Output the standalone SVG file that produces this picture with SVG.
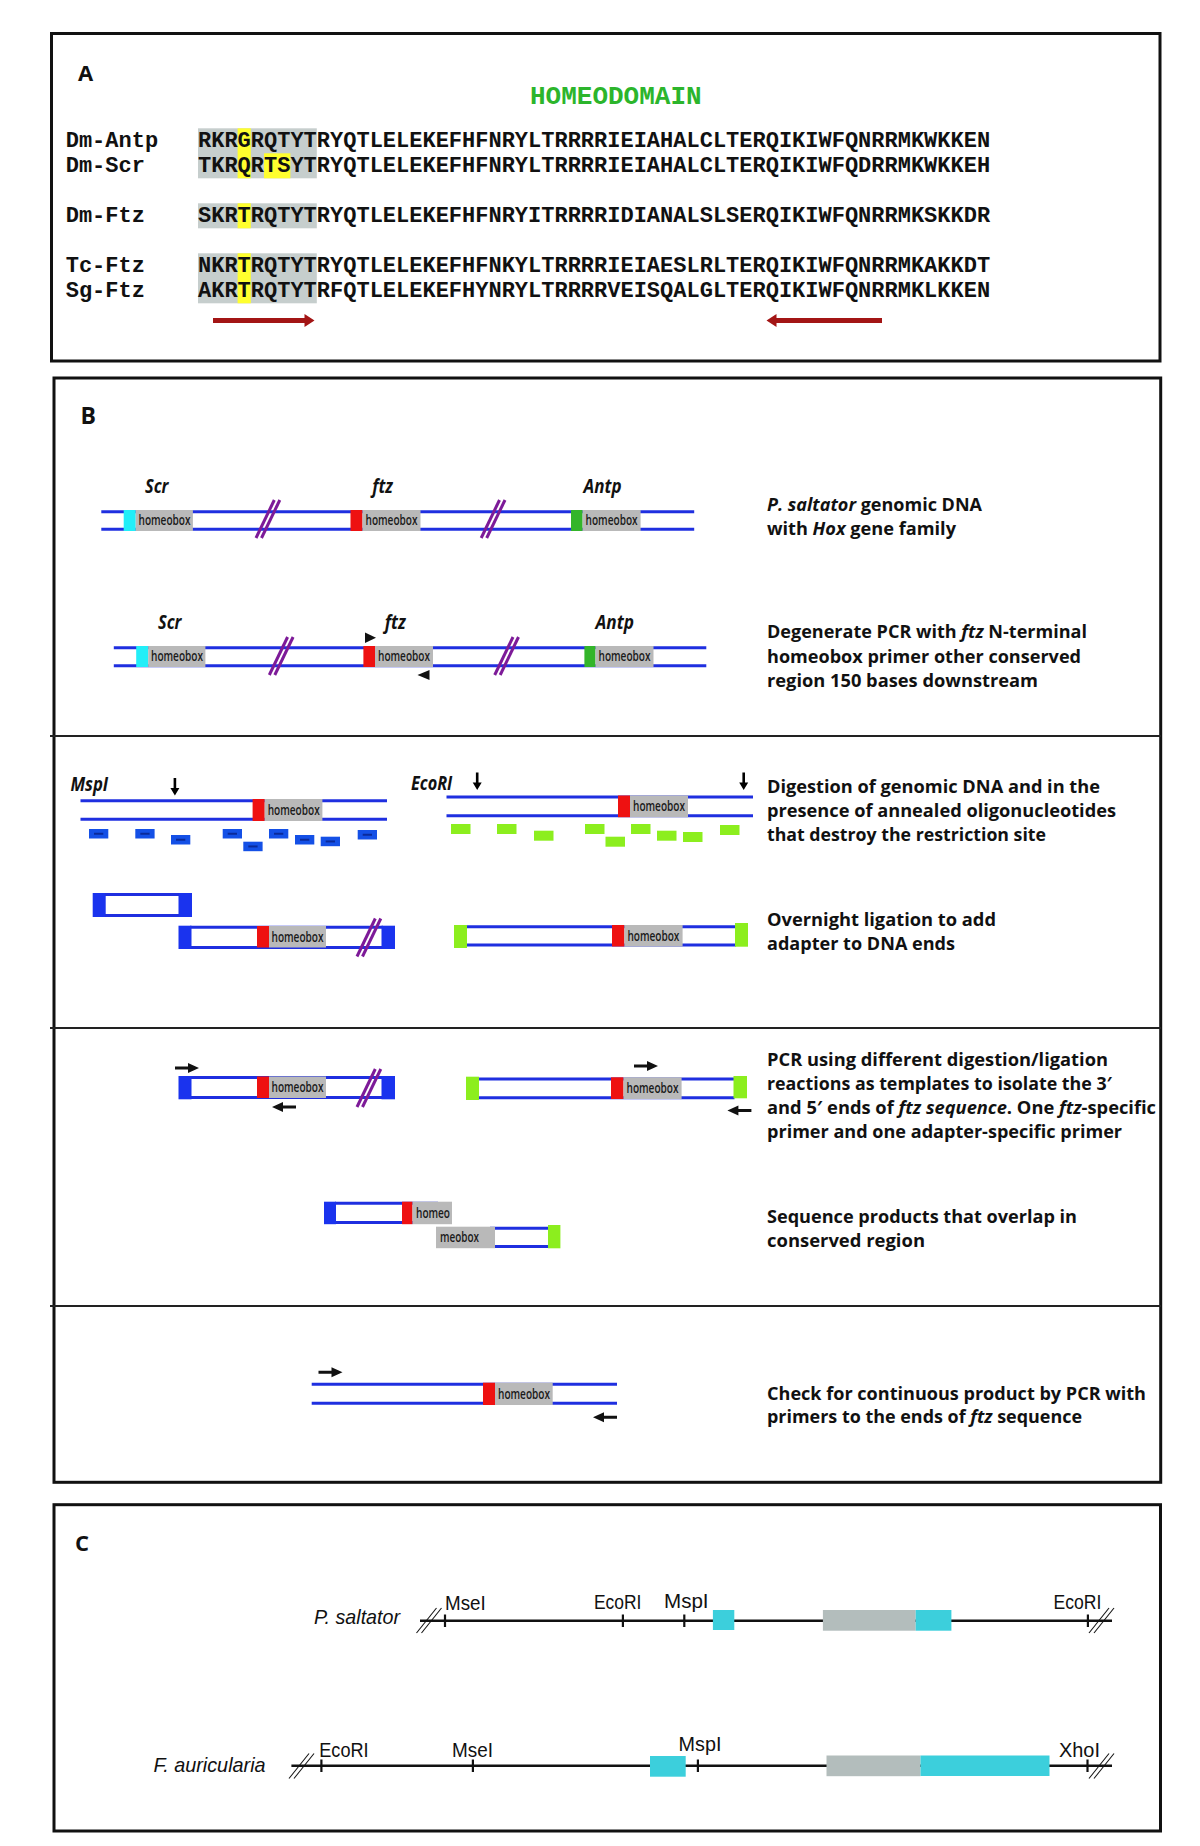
<svg xmlns="http://www.w3.org/2000/svg" width="1200" height="1846" viewBox="0 0 1200 1846">
<style>
.frame{fill:none;stroke:#111;stroke-width:3}
.div{stroke:#222;stroke-width:2}
.seq{font-family:"Liberation Mono","Courier New",monospace;font-weight:bold;font-size:22px;fill:#111}
.hd{font-family:"Liberation Mono","Courier New",monospace;font-weight:bold;font-size:26px;fill:#2cb52c}
.lbl{font-family:"Open Sans","Liberation Sans",sans-serif;font-weight:bold;fill:#111}
.gene{font-family:"Open Sans","Liberation Sans",sans-serif;font-weight:bold;font-style:italic;font-size:19px;fill:#111}
.desc{font-family:"Open Sans","Liberation Sans",sans-serif;font-weight:bold;font-size:17.5px;fill:#111}
.it{font-style:italic}
.hb{font-family:"Open Sans","Liberation Sans",sans-serif;font-weight:600;font-size:13.5px;fill:#1a1a1a}
.dna{stroke:#1f2fe0;stroke-width:3}
.hbox{fill:#b9b9b9}
.red{fill:#ee1111}
.cy{fill:#22eef8}
.grn{fill:#33b52a}
.slash line{stroke:#7d1a98;stroke-width:3}
.blue{fill:#1a33ee}
.olig{fill:#1450e6}
.dash{stroke:#0a2a9a;stroke-width:2}
.lime{fill:#8cee1e}
.arr{fill:#111}
.sh{fill:#c6cecd}
.yl{fill:#ffff2e}
.darr{fill:#a31515}
.cline{stroke:#111;stroke-width:2.5}
.tick{stroke:#111;stroke-width:2.2}
.cs line{stroke:#111;stroke-width:1.1}
.ctext{font-family:"Liberation Sans",Arial,sans-serif;font-size:19.5px;fill:#111}
.cital{font-family:"Liberation Sans",Arial,sans-serif;font-style:italic;font-size:21px;fill:#111}
.cb{fill:#3ccfdc}
.cg{fill:#b3bdbc}
</style>
<defs>
<path id="ar" d="M0,-1.5 h13 v-3.5 l11,5 l-11,5 v-3.5 h-13 z"/>
<path id="ad" d="M-1.3,0 v10 h-3.2 l4.5,7.5 l4.5,-7.5 h-3.2 v-10 z"/>
<g id="sl" class="slash"><line x1="0" y1="38" x2="18.3" y2="0"/><line x1="5.5" y1="38" x2="23.8" y2="0"/></g>
<g id="cs" class="cs"><line x1="0" y1="25" x2="20" y2="0"/><line x1="5" y1="25" x2="25" y2="0"/></g>
<g id="olig"><rect class="olig" width="19.3" height="9.5"/><line class="dash" x1="5" y1="4.75" x2="14.3" y2="4.75"/></g>
</defs>

<!-- Panel frames -->
<g id="frames">
<rect class="frame" x="51.5" y="33.5" width="1108.5" height="327.5"/>
<rect class="frame" x="54" y="378" width="1106.7" height="1104.3"/>
<rect class="frame" x="54" y="1504.7" width="1106.5" height="326.3"/>
<line class="div" x1="50" y1="736" x2="1161" y2="736"/>
<line class="div" x1="50" y1="1028" x2="1161" y2="1028"/>
<line class="div" x1="50" y1="1306" x2="1161" y2="1306"/>
</g>

<!-- Panel A -->
<g id="panelA">
<text class="lbl" x="78" y="81" font-size="22">A</text>
<text class="hd" x="530" y="104">HOMEODOMAIN</text>
<g id="shading">
<rect class="sh" x="198" y="128.3" width="118.8" height="50"/>
<rect class="sh" x="198" y="203.3" width="118.8" height="25"/>
<rect class="sh" x="198" y="253.3" width="118.8" height="50"/>
<rect class="yl" x="237.6" y="128.3" width="13.2" height="50"/>
<rect class="yl" x="264" y="153.3" width="26.4" height="25"/>
<rect class="yl" x="237.6" y="203.3" width="13.2" height="25"/>
<rect class="yl" x="237.6" y="253.3" width="13.2" height="50"/>
</g>
<g id="seqs">
<text class="seq" x="65.7" y="146.5">Dm-Antp</text>
<text class="seq" x="198" y="146.5">RKRGRQTYTRYQTLELEKEFHFNRYLTRRRRIEIAHALCLTERQIKIWFQNRRMKWKKEN</text>
<text class="seq" x="65.7" y="171.5">Dm-Scr</text>
<text class="seq" x="198" y="171.5">TKRQRTSYTRYQTLELEKEFHFNRYLTRRRRIEIAHALCLTERQIKIWFQDRRMKWKKEH</text>
<text class="seq" x="65.7" y="221.5">Dm-Ftz</text>
<text class="seq" x="198" y="221.5">SKRTRQTYTRYQTLELEKEFHFNRYITRRRRIDIANALSLSERQIKIWFQNRRMKSKKDR</text>
<text class="seq" x="65.7" y="271.5">Tc-Ftz</text>
<text class="seq" x="198" y="271.5">NKRTRQTYTRYQTLELEKEFHFNKYLTRRRRIEIAESLRLTERQIKIWFQNRRMKAKKDT</text>
<text class="seq" x="65.7" y="296.5">Sg-Ftz</text>
<text class="seq" x="198" y="296.5">AKRTRQTYTRFQTLELEKEFHYNRYLTRRRRVEISQALGLTERQIKIWFQNRRMKLKKEN</text>
</g>
<g id="primersA">
<path class="darr" d="M213,318 h91.5 v-4 l10,6.5 l-10,6.5 v-4 h-91.5 z"/>
<path class="darr" d="M882,318 h-105.5 v-4 l-10,6.5 l10,6.5 v-4 h105.5 z"/>
</g>
</g>

<!-- Panel B -->
<g id="panelB">
<text class="lbl" x="80.5" y="424" font-size="23">B</text>

<g id="row-genomic">
<line class="dna" x1="101.3" y1="511.7" x2="694.2" y2="511.7"/>
<line class="dna" x1="101.3" y1="529.3" x2="694.2" y2="529.3"/>
<rect class="cy" x="123.7" y="510" width="12" height="21"/>
<rect class="hbox" x="135.7" y="510" width="57.2" height="21"/>
<text class="hb" x="138.5" y="525" textLength="52" lengthAdjust="spacingAndGlyphs">homeobox</text>
<use href="#sl" x="256" y="500"/>
<rect class="red" x="350.5" y="510" width="12" height="21"/>
<rect class="hbox" x="362.5" y="510" width="58" height="21"/>
<text class="hb" x="365.5" y="525" textLength="52" lengthAdjust="spacingAndGlyphs">homeobox</text>
<use href="#sl" x="481.2" y="500"/>
<rect class="grn" x="571" y="510" width="11.6" height="21"/>
<rect class="hbox" x="582.6" y="510" width="58" height="21"/>
<text class="hb" x="585.6" y="525" textLength="52" lengthAdjust="spacingAndGlyphs">homeobox</text>
<text class="gene" x="145" y="493" textLength="23.5" lengthAdjust="spacingAndGlyphs">Scr</text>
<text class="gene" x="372.3" y="493" textLength="20.6" lengthAdjust="spacingAndGlyphs">ftz</text>
<text class="gene" x="583.5" y="493" textLength="38" lengthAdjust="spacingAndGlyphs">Antp</text>
</g>

<g id="row-degenerate">
<line class="dna" x1="113.8" y1="647.7" x2="706.3" y2="647.7"/>
<line class="dna" x1="113.8" y1="665.7" x2="706.3" y2="665.7"/>
<rect class="cy" x="136.2" y="646" width="12" height="21"/>
<rect class="hbox" x="148.2" y="646" width="57.2" height="21"/>
<text class="hb" x="151" y="661" textLength="52" lengthAdjust="spacingAndGlyphs">homeobox</text>
<use href="#sl" x="269.3" y="637"/>
<rect class="red" x="363.4" y="646" width="11.6" height="21"/>
<rect class="hbox" x="375" y="646" width="58" height="21"/>
<text class="hb" x="378" y="661" textLength="52" lengthAdjust="spacingAndGlyphs">homeobox</text>
<use href="#sl" x="494.7" y="637"/>
<rect class="grn" x="584.4" y="646" width="11.1" height="21"/>
<rect class="hbox" x="595.5" y="646" width="58" height="21"/>
<text class="hb" x="598.5" y="661" textLength="52" lengthAdjust="spacingAndGlyphs">homeobox</text>
<text class="gene" x="158" y="629" textLength="23.5" lengthAdjust="spacingAndGlyphs">Scr</text>
<text class="gene" x="384.8" y="629" textLength="21" lengthAdjust="spacingAndGlyphs">ftz</text>
<text class="gene" x="595.5" y="629" textLength="38.5" lengthAdjust="spacingAndGlyphs">Antp</text>
<polygon class="arr" points="365,632.5 376,637.7 365,643"/>
<polygon class="arr" points="429.5,670 417.5,675 429.5,680"/>
</g>

<g id="row-digestion-mspi">
<text class="gene" x="70.4" y="791" textLength="37.8" lengthAdjust="spacingAndGlyphs">MspI</text>
<use href="#ad" x="174.9" y="778"/>
<line class="dna" x1="80.5" y1="800.7" x2="387" y2="800.7"/>
<line class="dna" x1="80.5" y1="819.3" x2="387" y2="819.3"/>
<rect class="red" x="252.6" y="799" width="12.1" height="22"/>
<rect class="hbox" x="264.7" y="799" width="57.7" height="22"/>
<text class="hb" x="267.7" y="814.5" textLength="52" lengthAdjust="spacingAndGlyphs">homeobox</text>
<use href="#olig" x="89" y="829"/>
<use href="#olig" x="135.3" y="829"/>
<use href="#olig" x="171" y="835"/>
<use href="#olig" x="222.7" y="829"/>
<use href="#olig" x="243.3" y="841.7"/>
<use href="#olig" x="269" y="829"/>
<use href="#olig" x="295" y="835"/>
<use href="#olig" x="320.7" y="836.7"/>
<use href="#olig" x="357.7" y="830"/>
</g>

<g id="row-digestion-ecori">
<text class="gene" x="411" y="789.5" textLength="41.3" lengthAdjust="spacingAndGlyphs">EcoRI</text>
<use href="#ad" x="477.2" y="772.5"/>
<use href="#ad" x="743.7" y="772.5"/>
<line class="dna" x1="446.5" y1="797" x2="753" y2="797"/>
<line class="dna" x1="446.5" y1="815.7" x2="753" y2="815.7"/>
<rect class="red" x="618" y="795.5" width="12" height="21.7"/>
<rect class="hbox" x="630" y="795.5" width="58" height="21.7"/>
<text class="hb" x="633" y="811" textLength="52" lengthAdjust="spacingAndGlyphs">homeobox</text>
<rect class="lime" x="451" y="824" width="19.5" height="10"/>
<rect class="lime" x="497" y="824" width="19.5" height="10"/>
<rect class="lime" x="534" y="830.7" width="19.5" height="10"/>
<rect class="lime" x="585" y="824" width="19.5" height="10"/>
<rect class="lime" x="605.5" y="836.7" width="19.5" height="10"/>
<rect class="lime" x="631" y="824" width="19.5" height="10"/>
<rect class="lime" x="657" y="830.7" width="19.5" height="10"/>
<rect class="lime" x="683" y="832" width="19.5" height="10"/>
<rect class="lime" x="720" y="825" width="19.5" height="10"/>
</g>

<g id="row-ligation">
<rect class="blue" x="92.7" y="893" width="13" height="24"/>
<rect class="blue" x="178.5" y="893" width="13.5" height="24"/>
<line class="dna" x1="105" y1="894.6" x2="179" y2="894.6"/>
<line class="dna" x1="105" y1="915.4" x2="179" y2="915.4"/>

<line class="dna" x1="190" y1="927.3" x2="383" y2="927.3"/>
<line class="dna" x1="190" y1="947.4" x2="383" y2="947.4"/>
<rect class="blue" x="178.5" y="925.7" width="13" height="23.3"/>
<rect class="blue" x="381.5" y="925.7" width="13.5" height="23.3"/>
<rect class="red" x="257" y="926" width="12" height="21.5"/>
<rect class="hbox" x="269" y="926" width="57" height="21.5"/>
<text class="hb" x="271.5" y="941.5" textLength="52" lengthAdjust="spacingAndGlyphs">homeobox</text>
<use href="#sl" x="357" y="918.5"/>

<line class="dna" x1="466" y1="926.7" x2="736" y2="926.7"/>
<line class="dna" x1="466" y1="945" x2="736" y2="945"/>
<rect class="lime" x="454" y="925" width="13" height="23"/>
<rect class="lime" x="735" y="923" width="13" height="23.7"/>
<rect class="red" x="612" y="925" width="12.4" height="21.5"/>
<rect class="hbox" x="624.4" y="925" width="58.2" height="21.5"/>
<text class="hb" x="627.4" y="940.5" textLength="52" lengthAdjust="spacingAndGlyphs">homeobox</text>
</g>

<g id="row-pcr">
<use href="#ar" class="arr" x="175" y="1068"/>
<line class="dna" x1="190" y1="1077.5" x2="383" y2="1077.5"/>
<line class="dna" x1="190" y1="1097.6" x2="383" y2="1097.6"/>
<rect class="blue" x="178.5" y="1076" width="13" height="23.3"/>
<rect class="blue" x="381.5" y="1076" width="13.5" height="23.3"/>
<rect class="red" x="257" y="1076.5" width="12" height="21.5"/>
<rect class="hbox" x="269" y="1076.5" width="57" height="21.5"/>
<text class="hb" x="271.5" y="1092" textLength="52" lengthAdjust="spacingAndGlyphs">homeobox</text>
<use href="#sl" x="357" y="1069"/>
<use href="#ar" class="arr" transform="translate(296,1107) scale(-1,1)"/>

<line class="dna" x1="478" y1="1079" x2="734.5" y2="1079"/>
<line class="dna" x1="478" y1="1097.7" x2="734.5" y2="1097.7"/>
<rect class="lime" x="466" y="1076.7" width="13" height="23.3"/>
<rect class="lime" x="733.5" y="1076" width="13.5" height="22.3"/>
<rect class="red" x="611" y="1077.3" width="12.5" height="21.7"/>
<rect class="hbox" x="623.5" y="1077.3" width="58.1" height="21.7"/>
<text class="hb" x="626.5" y="1093" textLength="52" lengthAdjust="spacingAndGlyphs">homeobox</text>
<use href="#ar" class="arr" x="634" y="1066"/>
<use href="#ar" class="arr" transform="translate(751.4,1110.5) scale(-1,1)"/>
</g>

<g id="row-sequence">
<line class="dna" x1="335" y1="1203.2" x2="438" y2="1203.2"/>
<line class="dna" x1="335" y1="1222.5" x2="438" y2="1222.5"/>
<rect class="blue" x="324" y="1201.7" width="12" height="22.5"/>
<rect class="red" x="402" y="1201.7" width="10.5" height="22.5"/>
<rect class="hbox" x="412.5" y="1201.7" width="39.5" height="22.5"/>
<text class="hb" x="416" y="1217.5" textLength="34" lengthAdjust="spacingAndGlyphs">homeo</text>

<line class="dna" x1="490" y1="1228.2" x2="549" y2="1228.2"/>
<line class="dna" x1="445" y1="1246.6" x2="549" y2="1246.6"/>
<rect class="hbox" x="436" y="1226.7" width="59" height="21.5"/>
<text class="hb" x="440" y="1242" textLength="39" lengthAdjust="spacingAndGlyphs">meobox</text>
<rect class="lime" x="548" y="1225" width="12.4" height="23.3"/>
</g>

<g id="row-check">
<use href="#ar" class="arr" x="318.5" y="1372.2"/>
<line class="dna" x1="311.7" y1="1384.3" x2="617" y2="1384.3"/>
<line class="dna" x1="311.7" y1="1403.3" x2="617" y2="1403.3"/>
<rect class="red" x="483" y="1382.7" width="12" height="22.3"/>
<rect class="hbox" x="495" y="1382.7" width="57.7" height="22.3"/>
<text class="hb" x="498" y="1398.5" textLength="52" lengthAdjust="spacingAndGlyphs">homeobox</text>
<use href="#ar" class="arr" transform="translate(617,1417.2) scale(-1,1)"/>
</g>

<g id="descriptions">
<text class="desc" x="767" y="510.5" textLength="215" lengthAdjust="spacingAndGlyphs"><tspan class="it">P. saltator</tspan> genomic DNA</text>
<text class="desc" x="767" y="535" textLength="189" lengthAdjust="spacingAndGlyphs">with <tspan class="it">Hox</tspan> gene family</text>
<text class="desc" x="767" y="638" textLength="320" lengthAdjust="spacingAndGlyphs">Degenerate PCR with <tspan class="it">ftz</tspan> N-terminal</text>
<text class="desc" x="767" y="662.5" textLength="314" lengthAdjust="spacingAndGlyphs">homeobox primer other conserved</text>
<text class="desc" x="767" y="687" textLength="271" lengthAdjust="spacingAndGlyphs">region 150 bases downstream</text>
<text class="desc" x="767" y="793.3" textLength="333" lengthAdjust="spacingAndGlyphs">Digestion of genomic DNA and in the</text>
<text class="desc" x="767" y="817.3" textLength="349" lengthAdjust="spacingAndGlyphs">presence of annealed oligonucleotides</text>
<text class="desc" x="767" y="841" textLength="279" lengthAdjust="spacingAndGlyphs">that destroy the restriction site</text>
<text class="desc" x="767" y="925.7" textLength="229" lengthAdjust="spacingAndGlyphs">Overnight ligation to add</text>
<text class="desc" x="767" y="950" textLength="188" lengthAdjust="spacingAndGlyphs">adapter to DNA ends</text>
<text class="desc" x="767" y="1066" textLength="341" lengthAdjust="spacingAndGlyphs">PCR using different digestion/ligation</text>
<text class="desc" x="767" y="1090" textLength="345" lengthAdjust="spacingAndGlyphs">reactions as templates to isolate the 3′</text>
<text class="desc" x="767" y="1114" textLength="389" lengthAdjust="spacingAndGlyphs">and 5′ ends of <tspan class="it">ftz sequence</tspan>.  One <tspan class="it">ftz</tspan>-specific</text>
<text class="desc" x="767" y="1138.3" textLength="355" lengthAdjust="spacingAndGlyphs">primer and one adapter-specific primer</text>
<text class="desc" x="767" y="1223.3" textLength="310" lengthAdjust="spacingAndGlyphs">Sequence products that overlap in</text>
<text class="desc" x="767" y="1246.7" textLength="158" lengthAdjust="spacingAndGlyphs">conserved region</text>
<text class="desc" x="767" y="1400" textLength="379" lengthAdjust="spacingAndGlyphs">Check for continuous product by PCR with</text>
<text class="desc" x="767" y="1422.7" textLength="315" lengthAdjust="spacingAndGlyphs">primers to the ends of <tspan class="it">ftz</tspan> sequence</text>
</g>
</g>

<!-- Panel C -->
<g id="panelC">
<text class="lbl" x="75" y="1551" font-size="22">C</text>
<g id="psaltator">
<line class="cline" x1="420" y1="1620.7" x2="1112" y2="1620.7"/>
<use href="#cs" x="416.5" y="1608"/>
<use href="#cs" x="1089" y="1608"/>
<line class="tick" x1="445" y1="1614.5" x2="445" y2="1627"/>
<line class="tick" x1="622.9" y1="1614.5" x2="622.9" y2="1627"/>
<line class="tick" x1="684.3" y1="1614.5" x2="684.3" y2="1627"/>
<line class="tick" x1="1087.9" y1="1614.5" x2="1087.9" y2="1627"/>
<rect class="cb" x="712.9" y="1610" width="21.4" height="20"/>
<rect class="cg" x="822.9" y="1610" width="92.8" height="20.7"/>
<rect class="cb" x="915.7" y="1610" width="35.7" height="20.7"/>
<text class="cital" x="314" y="1624" textLength="86" lengthAdjust="spacingAndGlyphs">P. saltator</text>
<text class="ctext" x="445" y="1610" textLength="40.7" lengthAdjust="spacingAndGlyphs">MseI</text>
<text class="ctext" x="594" y="1609" textLength="47.4" lengthAdjust="spacingAndGlyphs">EcoRI</text>
<text class="ctext" x="664" y="1607.5" textLength="44.6" lengthAdjust="spacingAndGlyphs">MspI</text>
<text class="ctext" x="1053.6" y="1609" textLength="47.8" lengthAdjust="spacingAndGlyphs">EcoRI</text>
</g>
<g id="fauricularia">
<line class="cline" x1="291.4" y1="1765.7" x2="1112" y2="1765.7"/>
<use href="#cs" x="289" y="1753.5"/>
<use href="#cs" x="1089" y="1753.5"/>
<line class="tick" x1="321.4" y1="1759.5" x2="321.4" y2="1772"/>
<line class="tick" x1="472.9" y1="1759.5" x2="472.9" y2="1772"/>
<line class="tick" x1="697.9" y1="1759.5" x2="697.9" y2="1772"/>
<line class="tick" x1="1087.5" y1="1759.5" x2="1087.5" y2="1772"/>
<rect class="cb" x="650" y="1756" width="35.7" height="20.7"/>
<rect class="cg" x="826.5" y="1755.5" width="94" height="20.7"/>
<rect class="cb" x="920.5" y="1755.5" width="129" height="20.5"/>
<text class="cital" x="153.6" y="1771.7" textLength="112" lengthAdjust="spacingAndGlyphs">F. auricularia</text>
<text class="ctext" x="319.3" y="1756.7" textLength="49.3" lengthAdjust="spacingAndGlyphs">EcoRI</text>
<text class="ctext" x="452" y="1756.7" textLength="41" lengthAdjust="spacingAndGlyphs">MseI</text>
<text class="ctext" x="678.6" y="1751" textLength="42.8" lengthAdjust="spacingAndGlyphs">MspI</text>
<text class="ctext" x="1059" y="1756.7" textLength="41" lengthAdjust="spacingAndGlyphs">XhoI</text>
</g>
</g>
</svg>
